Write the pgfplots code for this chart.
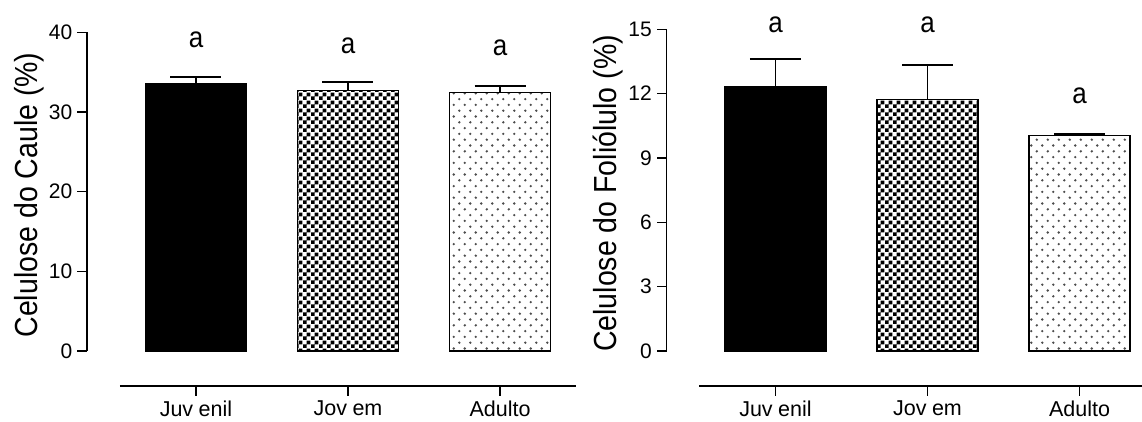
\documentclass[border=0pt]{standalone}
\usepackage{fontspec}
\setmainfont{Liberation Sans}
\usepackage{graphicx}
\usepackage{pgfplots}
\pgfplotsset{compat=1.18}
\usetikzlibrary{patterns}

\pgfdeclarepatternformonly{checker}{\pgfpointorigin}{\pgfqpoint{8.2pt}{8.2pt}}{\pgfqpoint{8.2pt}{8.2pt}}{%
  \pgfpathrectangle{\pgfpointorigin}{\pgfqpoint{4.1pt}{4.1pt}}%
  \pgfpathrectangle{\pgfqpoint{4.1pt}{4.1pt}}{\pgfqpoint{4.1pt}{4.1pt}}%
  \pgfusepath{fill}}
\pgfdeclarepatternformonly{sparsedots}{\pgfqpoint{-1pt}{-1pt}}{\pgfqpoint{12pt}{13.6pt}}{\pgfqpoint{11pt}{11.6pt}}{%
  \pgfpathcircle{\pgfqpoint{2.75pt}{2.9pt}}{1.3pt}%
  \pgfpathcircle{\pgfqpoint{8.25pt}{8.7pt}}{1.3pt}%
  \pgfusepath{fill}}

\tikzset{letter/.style={font=\fontsize{26}{26}\selectfont}}

\pgfplotsset{
  panel/.style={
    scale only axis, width=489pt, clip=false,
    xmin=-0.717, xmax=2.5,
    axis line style={draw=none},
    tick align=outside, major tick length=9.5pt,
    tick style={black, line width=1.2pt},
    xtick pos=bottom, ytick pos=left,
    xtick={0,1,2},
    xticklabels={Juv\kern5.5pt enil, Jov\kern5.5pt em, Adulto},
    xticklabel style={font=\fontsize{21.5}{22}\selectfont, inner sep=0pt, yshift=-5.5pt},
    yticklabel style={font=\fontsize{21}{22}\selectfont, inner sep=0pt, xshift=-5pt},
    /pgf/number format/assume math mode=true,
    ylabel style={font=\fontsize{28.5}{30}\selectfont, at={(rel axis cs:-0.102,0.54)}, anchor=base},
    ybar, bar width=101pt, bar shift=0pt,
  },
  errstyle/.style={error bars/.cd, y dir=plus, y explicit,
    error mark=|,
    error bar style={line width=1.5pt, black},
    error mark options={line width=2pt, mark size=25.5pt, black}},
}

\begin{document}
\begin{tikzpicture}
\useasboundingbox (0,0) rectangle (1142pt,421pt);
\clip (0,0) rectangle (1142pt,421pt);

% Left panel: Celulose do Caule
\begin{axis}[panel, at={(87pt,35pt)}, anchor=south west,
  height=353.7pt, ymin=-4.393, ymax=40, ytick={0,10,20,30,40},
  ylabel={\scalebox{1}[1.12]{Celulose do Caule (\%)}}]
\addplot[fill=black, draw=black, line width=1.2pt, errstyle] coordinates {(0,33.5) +- (0,0.9)};
\addplot[pattern=checker, pattern color=black, draw=black, line width=1.2pt, errstyle] coordinates {(1,32.7) +- (0,1.0)};
\addplot[pattern=sparsedots, pattern color=black!70, draw=black, line width=1.2pt, errstyle] coordinates {(2,32.4) +- (0,0.9)};
\draw[line width=1.2pt] (axis cs:-0.717,0) -- (axis cs:-0.717,40);
\draw[line width=1.2pt] (axis cs:-0.5,-4.393) -- (axis cs:2.5,-4.393);
\node[letter] at (axis cs:0,39.0) {\scalebox{1}[1.12]{a}};
\node[letter] at (axis cs:1,38.3) {\scalebox{1}[1.12]{a}};
\node[letter] at (axis cs:2,38.0) {\scalebox{1}[1.12]{a}};
\end{axis}

% Right panel: Celulose do Foliolulo
\begin{axis}[panel, at={(666.5pt,35pt)}, anchor=south west,
  height=356.7pt, ymin=-1.632, ymax=15, ytick={0,3,6,9,12,15},
  ylabel={\scalebox{1}[1.12]{Celulose do Foliólulo (\%)}}]
\addplot[fill=black, draw=black, line width=1.2pt, errstyle] coordinates {(0,12.32) +- (0,1.29)};
\addplot[pattern=checker, pattern color=black, draw=black, line width=1.2pt, errstyle] coordinates {(1,11.72) +- (0,1.6)};
\addplot[pattern=sparsedots, pattern color=black!70, draw=black, line width=1.2pt, errstyle] coordinates {(2,10.04) +- (0,0.08)};
\draw[line width=1.2pt] (axis cs:-0.717,0) -- (axis cs:-0.717,15);
\draw[line width=1.2pt] (axis cs:-0.5,-1.632) -- (axis cs:2.5,-1.632);
\node[letter] at (axis cs:0,15.2) {\scalebox{1}[1.12]{a}};
\node[letter] at (axis cs:1,15.2) {\scalebox{1}[1.12]{a}};
\node[letter] at (axis cs:2,11.9) {\scalebox{1}[1.12]{a}};
\end{axis}
\end{tikzpicture}
\end{document}
